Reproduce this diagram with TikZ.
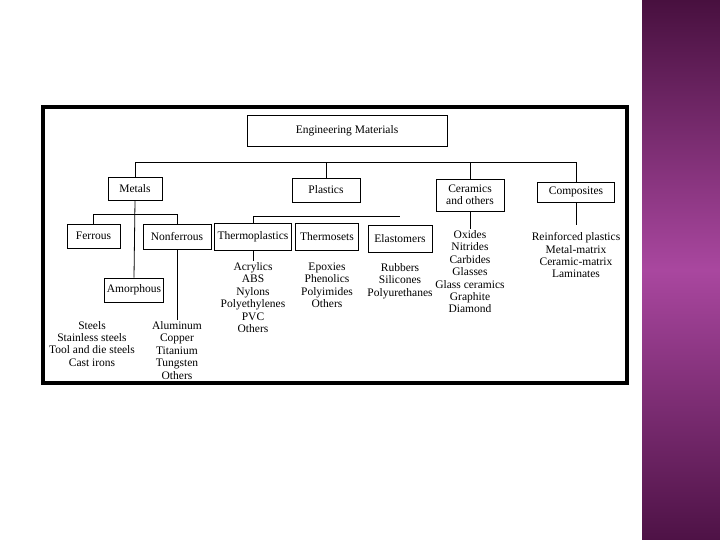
\documentclass[tikz,border=0pt]{standalone}
\usepackage{fontspec}
\setmainfont{Liberation Serif}
\usetikzlibrary{positioning}
\definecolor{slidePlum}{HTML}{48103F}
\definecolor{slideOrchid}{HTML}{A9479F}
\definecolor{slideWine}{HTML}{4E1246}
\begin{document}
\begin{tikzpicture}[
  x=1pt, y=-1pt,
  cat/.style={draw=black, line width=0.8pt, font=\fontsize{11.5}{12.4}\selectfont,
              align=center, inner sep=2pt},
  items/.style={font=\fontsize{11.5}{12.4}\selectfont, align=center, inner sep=1pt},
  link/.style={black, line width=0.8pt}
]
\useasboundingbox (0,0) rectangle (720,540);
% slide band and frame
\shade[top color=slidePlum, bottom color=slideWine, middle color=slideOrchid] (642,0) rectangle (720,540);
\draw[line width=4pt] (43,107) rectangle (627,383);
% categories
\node[cat, minimum width=200pt, minimum height=31pt] (engmat)    at (347,130.5) {Engineering Materials};
\node[cat, minimum width=54pt,  minimum height=23pt] (metals)    at (135,188.5) {Metals};
\node[cat, minimum width=68pt,  minimum height=24pt] (plastics)  at (326,190)   {Plastics};
\node[cat, minimum width=68pt,  minimum height=32pt] (ceramics)  at (470,195)   {Ceramics\\and others};
\node[cat, minimum width=77pt,  minimum height=20pt] (composites) at (576,192)  {Composites};
\node[cat, minimum width=53pt,  minimum height=24pt] (ferrous)   at (93.5,236)  {Ferrous};
\node[cat, minimum width=68pt,  minimum height=25pt] (nonferrous) at (177,236.5) {Nonferrous};
\node[cat, minimum width=58pt,  minimum height=24pt] (amorph)    at (134,290)   {Amorphous};
\node[cat, minimum width=77pt,  minimum height=27pt] (thermopl)  at (253,236.5) {Thermoplastics};
\node[cat, minimum width=63pt,  minimum height=27pt] (thermoset) at (327,236.5) {Thermosets};
\node[cat, minimum width=64pt,  minimum height=27pt] (elastomer) at (400,238.5) {Elastomers};
% member lists
\node[items, anchor=north] (ferlist) at (92,320) {Steels\\Stainless steels\\Tool and die steels\\Cast irons};
\node[items, below=71pt of nonferrous] (nflist) {Aluminum\\Copper\\Titanium\\Tungsten\\Others};
\node[items, below=11pt of thermopl]  (tplist)  {Acrylics\\ABS\\Nylons\\Polyethylenes\\PVC\\Others};
\node[items, below=11pt of thermoset] (tslist)  {Epoxies\\Phenolics\\Polyimides\\Others};
\node[items, below=10pt of elastomer] (ellist)  {Rubbers\\Silicones\\Polyurethanes};
\node[items, below=18pt of ceramics]  (cerlist) {Oxides\\Nitrides\\Carbides\\Glasses\\Glass ceramics\\Graphite\\Diamond};
\node[items, below=29pt of composites] (complist) {Reinforced plastics\\Metal-matrix\\Ceramic-matrix\\Laminates};
% connectors
\coordinate (bus)  at (0,162);
\coordinate (mbus) at (0,214);
\coordinate (pbus) at (400,216);
\draw[link] (metals.north) -- (metals.north |- bus) -- (composites.north |- bus) -- (composites.north);
\draw[link] (plastics.north) -- (plastics.north |- bus);
\draw[link] (ceramics.north) -- (ceramics.north |- bus);
\draw[link] (ferrous.north) -- (ferrous.north |- mbus) -- (nonferrous.north |- mbus) -- (nonferrous.north);
\draw[link] (metals.south) -- (amorph.north);
\draw[link] (nonferrous.south) -- (nflist.north);
\draw[link] (thermopl.north) |- (pbus);
\draw[link] (thermopl.south) -- (tplist.north);
\draw[link] (ceramics.south) -- (cerlist.north);
\draw[link, shorten >=6pt] (composites.south) -- (complist.north);
\end{tikzpicture}
\end{document}
